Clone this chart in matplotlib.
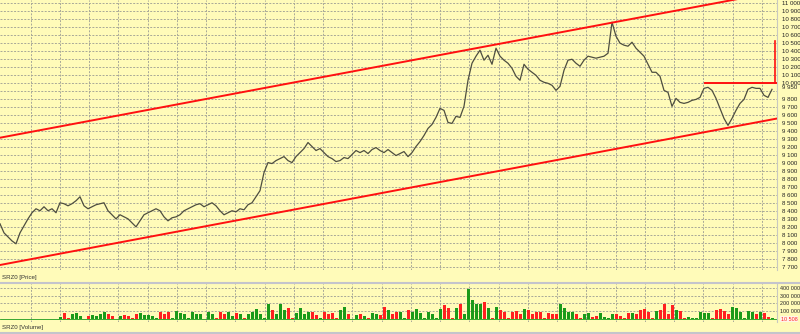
import matplotlib
matplotlib.use("Agg")
import matplotlib.pyplot as plt
from matplotlib.lines import Line2D
import numpy as np

# ---------------- data ----------------
price = [8240, 8127, 8077, 8026, 7990, 8127, 8215, 8302, 8378, 8428,
         8403, 8453, 8403, 8428, 8378, 8503, 8491, 8465, 8491, 8528,
         8578, 8465, 8428, 8453, 8478, 8491, 8503, 8403, 8353, 8302,
         8353, 8327, 8302, 8252, 8202, 8277, 8353, 8378, 8403, 8428,
         8403, 8327, 8277, 8315, 8327, 8353, 8403, 8428, 8453, 8478,
         8491, 8453, 8478, 8503, 8465, 8403, 8353, 8378, 8403, 8390,
         8428, 8415, 8478, 8503, 8578, 8654, 8880, 9005, 8993, 9030,
         9055, 9080, 9030, 9005, 9080, 9130, 9180, 9256, 9206, 9156,
         9180, 9130, 9080, 9055, 9018, 9030, 9068, 9055, 9105, 9156,
         9130, 9156, 9118, 9168, 9193, 9156, 9130, 9168, 9130, 9093,
         9118, 9143, 9080, 9130, 9206, 9268, 9344, 9432, 9482, 9570,
         9683, 9658, 9507, 9495, 9583, 9570, 9708, 10034, 10247, 10335,
         10410, 10285, 10347, 10234, 10435, 10335, 10285, 10247, 10184, 10084,
         10034, 10234, 10172, 10134, 10096, 10034, 10009, 9996, 9971, 9908,
         9958, 10159, 10285, 10297, 10247, 10209, 10285, 10335, 10322, 10310,
         10322, 10335, 10372, 10760, 10585, 10498, 10473, 10460, 10510, 10435,
         10385, 10335, 10234, 10134, 10134, 10084, 9908, 9883, 9708, 9808,
         9758, 9745, 9758, 9783, 9795, 9820, 9933, 9946, 9908, 9808,
         9683, 9557, 9470, 9557, 9658, 9745, 9795, 9921, 9946, 9933,
         9933, 9846, 9820, 9921]

volume_k = [3, 2, 4, 2, 3, 5, 2, 3, 4, 2, 3, 5, 3, 4, 2,
            20, 80, 10, 60, 75, 40, 5, 45, 50, 35, 60, 95, 70, 40, 5,
            45, 50, 40, 10, 60, 75, 55, 50, 45, 10, 90, 70, 95, 15, 105,
            80, 60, 10, 95, 70, 60, 5, 85, 60, 10, 90, 70, 85, 40, 80,
            60, 10, 70, 90, 130, 60, 10, 195, 120, 60, 195, 110, 140, 10, 80,
            140, 60, 90, 85, 50, 10, 95, 60, 80, 10, 110, 150, 70, 5, 50,
            60, 45, 10, 80, 60, 50, 150, 110, 60, 95, 85, 10, 110, 90, 130,
            80, 10, 95, 70, 10, 130, 175, 140, 10, 145, 195, 60, 390, 240, 195,
            195, 220, 140, 10, 150, 110, 85, 10, 90, 100, 60, 130, 110, 60, 90,
            85, 10, 80, 70, 60, 195, 140, 90, 95, 60, 10, 70, 80, 30, 40,
            80, 20, 10, 70, 60, 40, 10, 80, 75, 60, 110, 130, 90, 10, 100,
            110, 195, 60, 175, 110, 100, 15, 20, 15, 10, 85, 75, 80, 10, 110,
            130, 100, 60, 150, 140, 90, 10, 100, 85, 60, 95, 80, 30, 10]

channel_upper = [9316, 11142]
channel_lower = [7725, 9556]
level_price = 10000
marker_top = 10525
last_price_label = "9 950"
last_volume_label = "10 508"

price_ticks = list(range(7700, 11001, 100))
volume_ticks = [100000, 200000, 300000, 400000]

# ---------------- style ----------------
BG = "#fffbb9"
GRID = "#a8a898"
W, H = 800, 334
FONT = "Liberation Sans"
FS = 4.4
FS_V = 3.9

n = min(len(price), len(volume_k))
price = price[:n]
volume = [v * 1000 for v in volume_k[:n]]
x = np.arange(n)
xmax = 777 / 4.0

fig = plt.figure(figsize=(W / 100, H / 100), dpi=100, facecolor=BG)

def fy(py):
    return 1 - py / H

ax_p = fig.add_axes([0, fy(270), 777 / W, 270 / H])
ax_v = fig.add_axes([0, fy(322), 777 / W, (322 - 284) / H])

vgrid = [(30.7 + 29.25 * k) / 4.0 for k in range(26)]

for ax in (ax_p, ax_v):
    ax.set_facecolor(BG)
    ax.set_xlim(0, xmax)
    ax.set_xticks(vgrid)
    ax.tick_params(axis="x", length=0, labelbottom=False)
    for s in ("top", "left", "bottom"):
        ax.spines[s].set_visible(False)
    ax.spines["right"].set_color("#c8c8c0")
    ax.spines["right"].set_linewidth(0.8)
    ax.grid(True, color=GRID, linestyle=(0, (2, 1.5)), linewidth=0.7)
    ax.set_axisbelow(True)
    ax.yaxis.tick_right()
    ax.tick_params(axis="y", length=0, pad=3.5, labelsize=FS, labelcolor="#222222")

# price panel
ax_p.set_ylim(7662.5, 11037.5)
ax_p.set_yticks(price_ticks)
labels = []
for t in price_ticks:
    s = f"{t:,}".replace(",", " ")
    labels.append("" if t == 9900 else s)
ax_p.set_yticklabels(labels, fontfamily=FONT)

ax_p.plot(x, price, color="#4e4e40", lw=0.9, zorder=3)
ax_p.plot([0, xmax], channel_upper, color="#ff1010", lw=1.4, zorder=4)
ax_p.plot([0, xmax], channel_lower, color="#ff1010", lw=1.4, zorder=4)
ax_p.plot([705 / 4.0, xmax], [level_price, level_price], color="#ff1010", lw=1.4, zorder=4)
ax_p.plot([775 / 4.0, 775 / 4.0], [level_price, marker_top], color="#ff1010", lw=1.2, zorder=4)
ax_p.text(1.0 + 5 / 777, 9945, last_price_label, transform=ax_p.get_yaxis_transform(),
          fontsize=FS, fontfamily=FONT, va="center", ha="left", color="#222222", clip_on=False)

# volume panel
ax_v.set_ylim(-38700, 451600)
ax_v.set_yticks(volume_ticks)
ax_v.set_yticklabels([f"{t:,}".replace(",", " ") for t in volume_ticks], fontfamily=FONT)
ax_v.tick_params(axis="y", pad=2.5, labelsize=FS_V)
colors = []
for i in range(n):
    if i == 0 or price[i] >= price[i - 1]:
        colors.append("#1a9a1a")
    else:
        colors.append("#ff2020")
ax_v.bar(x, volume, width=0.75, color=colors, align="center", zorder=3)
ax_v.axhline(0, color="#1a9a1a", lw=0.6, zorder=2)
ax_v.text(1.0 + 4 / 777, 0, last_volume_label, transform=ax_v.get_yaxis_transform(),
          fontsize=FS_V, fontfamily=FONT, va="center", ha="left", color="#ff2020",
          bbox=dict(boxstyle="square,pad=0.1", facecolor="#fff4e8", edgecolor="none"),
          clip_on=False)

# panel captions and separators
fig.text(2 / W, fy(278), "SRZ0 [Price]", fontsize=FS, fontfamily=FONT, va="center", color="#333333")
fig.text(2 / W, fy(328), "SRZ0 [Volume]", fontsize=FS, fontfamily=FONT, va="center", color="#333333")
for py in (283, 333):
    fig.add_artist(Line2D([0, 1], [fy(py), fy(py)], color="#c4c4cc", lw=1.5))

fig.savefig("out.png", dpi=100, facecolor=BG)
